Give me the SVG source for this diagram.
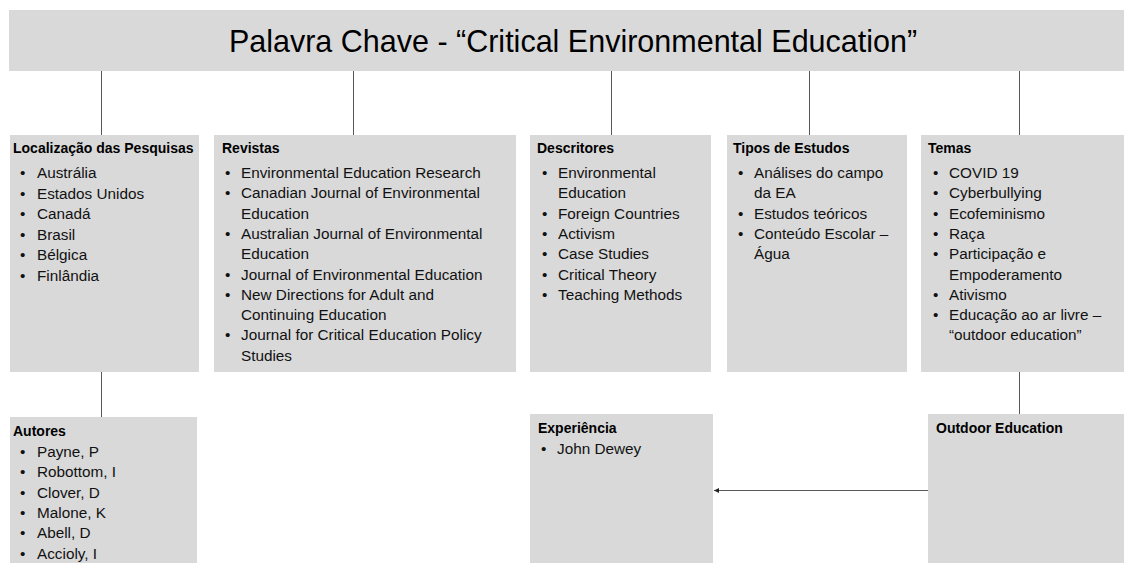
<svg xmlns="http://www.w3.org/2000/svg" width="1124" height="563" viewBox="0 0 1124 563">
<style>
.box{fill:#d9d9d9}
.title{font-family:"Liberation Sans",Arial,sans-serif;font-size:30.5px;fill:#000}
.hdr{font-family:"Liberation Sans",Arial,sans-serif;font-size:14px;font-weight:bold;fill:#000}
.it{font-family:"Liberation Sans",Arial,sans-serif;font-size:15.3px;fill:#111}
.conn{stroke:#595959;stroke-width:1;fill:none}
</style>
<defs>
<marker id="ah" markerWidth="6" markerHeight="6" refX="5" refY="3" orient="auto" markerUnits="userSpaceOnUse">
<path d="M0,0.5 L5,3 L0,5.5 Z" fill="#222"/>
</marker>
</defs>
<rect width="1124" height="563" fill="#fff"/>

<g id="connectors">
<line class="conn" x1="101.5" y1="71" x2="101.5" y2="135"/>
<line class="conn" x1="353.5" y1="71" x2="353.5" y2="135"/>
<line class="conn" x1="611.5" y1="71" x2="611.5" y2="135"/>
<line class="conn" x1="809.5" y1="71" x2="809.5" y2="135"/>
<line class="conn" x1="1019.5" y1="71" x2="1019.5" y2="135"/>
<line class="conn" x1="101.5" y1="372" x2="101.5" y2="417"/>
<line class="conn" x1="1019.5" y1="372" x2="1019.5" y2="414"/>
<line class="conn" x1="928" y1="490.5" x2="714" y2="490.5" marker-end="url(#ah)"/>
</g>

<g id="title">
<rect class="box" x="9" y="10" width="1115" height="61"/>
<text class="title" x="573" y="52" text-anchor="middle">Palavra Chave - “Critical Environmental Education”</text>
</g>

<g id="localizacao">
<rect class="box" x="10" y="135" width="189" height="237"/>
<text class="hdr" x="13" y="153">Localização das Pesquisas</text>
<g class="it">
<text x="20" y="178">•</text><text x="37" y="178">Austrália</text>
<text x="20" y="198.5">•</text><text x="37" y="198.5">Estados Unidos</text>
<text x="20" y="219">•</text><text x="37" y="219">Canadá</text>
<text x="20" y="239.5">•</text><text x="37" y="239.5">Brasil</text>
<text x="20" y="260">•</text><text x="37" y="260">Bélgica</text>
<text x="20" y="280.5">•</text><text x="37" y="280.5">Finlândia</text>
</g>
</g>

<g id="revistas">
<rect class="box" x="214" y="135" width="302" height="237"/>
<text class="hdr" x="222" y="153">Revistas</text>
<g class="it">
<text x="225" y="178">•</text><text x="241" y="178">Environmental Education Research</text>
<text x="225" y="198.3">•</text><text x="241" y="198.3">Canadian Journal of Environmental</text>
<text x="241" y="218.6">Education</text>
<text x="225" y="238.9">•</text><text x="241" y="238.9">Australian Journal of Environmental</text>
<text x="241" y="259.2">Education</text>
<text x="225" y="279.5">•</text><text x="241" y="279.5">Journal of Environmental Education</text>
<text x="225" y="299.8">•</text><text x="241" y="299.8">New Directions for Adult and</text>
<text x="241" y="320.1">Continuing Education</text>
<text x="225" y="340.4">•</text><text x="241" y="340.4">Journal for Critical Education Policy</text>
<text x="241" y="360.7">Studies</text>
</g>
</g>

<g id="descritores">
<rect class="box" x="530" y="135" width="181" height="237"/>
<text class="hdr" x="537" y="153">Descritores</text>
<g class="it">
<text x="542" y="178">•</text><text x="558" y="178">Environmental</text>
<text x="558" y="198.3">Education</text>
<text x="542" y="218.6">•</text><text x="558" y="218.6">Foreign Countries</text>
<text x="542" y="238.9">•</text><text x="558" y="238.9">Activism</text>
<text x="542" y="259.2">•</text><text x="558" y="259.2">Case Studies</text>
<text x="542" y="279.5">•</text><text x="558" y="279.5">Critical Theory</text>
<text x="542" y="299.8">•</text><text x="558" y="299.8">Teaching Methods</text>
</g>
</g>

<g id="tipos">
<rect class="box" x="727" y="135" width="180" height="237"/>
<text class="hdr" x="733" y="153">Tipos de Estudos</text>
<g class="it">
<text x="738" y="178">•</text><text x="754" y="178">Análises do campo</text>
<text x="754" y="198.3">da EA</text>
<text x="738" y="218.6">•</text><text x="754" y="218.6">Estudos teóricos</text>
<text x="738" y="238.9">•</text><text x="754" y="238.9">Conteúdo Escolar –</text>
<text x="754" y="259.2">Água</text>
</g>
</g>

<g id="temas">
<rect class="box" x="921" y="135" width="203" height="237"/>
<text class="hdr" x="928" y="153">Temas</text>
<g class="it">
<text x="933" y="178">•</text><text x="949" y="178">COVID 19</text>
<text x="933" y="198.3">•</text><text x="949" y="198.3">Cyberbullying</text>
<text x="933" y="218.6">•</text><text x="949" y="218.6">Ecofeminismo</text>
<text x="933" y="238.9">•</text><text x="949" y="238.9">Raça</text>
<text x="933" y="259.2">•</text><text x="949" y="259.2">Participação e</text>
<text x="949" y="279.5">Empoderamento</text>
<text x="933" y="299.8">•</text><text x="949" y="299.8">Ativismo</text>
<text x="933" y="320.1">•</text><text x="949" y="320.1">Educação ao ar livre –</text>
<text x="949" y="340.4">“outdoor education”</text>
</g>
</g>

<g id="autores">
<rect class="box" x="10" y="417" width="187" height="146"/>
<text class="hdr" x="13" y="436">Autores</text>
<g class="it">
<text x="20" y="457">•</text><text x="37" y="457">Payne, P</text>
<text x="20" y="477.3">•</text><text x="37" y="477.3">Robottom, I</text>
<text x="20" y="497.6">•</text><text x="37" y="497.6">Clover, D</text>
<text x="20" y="517.9">•</text><text x="37" y="517.9">Malone, K</text>
<text x="20" y="538.2">•</text><text x="37" y="538.2">Abell, D</text>
<text x="20" y="558.5">•</text><text x="37" y="558.5">Accioly, I</text>
</g>
</g>

<g id="experiencia">
<rect class="box" x="530" y="414" width="183" height="149"/>
<text class="hdr" x="538" y="433">Experiência</text>
<g class="it">
<text x="541" y="454">•</text><text x="557" y="454">John Dewey</text>
</g>
</g>

<g id="outdoor">
<rect class="box" x="928" y="414" width="196" height="149"/>
<text class="hdr" x="936" y="433">Outdoor Education</text>
</g>
</svg>
